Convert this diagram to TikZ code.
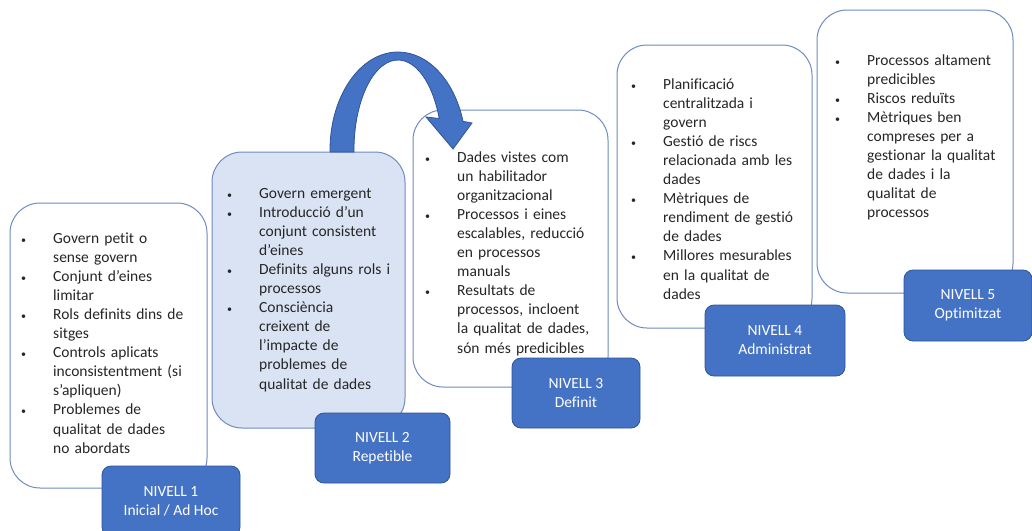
\documentclass[tikz,border=0pt]{standalone}
\usepackage{fontspec}
\setmainfont{Carlito}[Ligatures=NoCommon]

\definecolor{boxline}{HTML}{6F8BC0}
\definecolor{boxfill}{HTML}{DAE3F3}
\definecolor{lvlblue}{HTML}{4472C4}
\definecolor{lvlline}{HTML}{2F5597}

\newlength\bulind
\setlength\bulind{32pt}
\newcommand\bul[1]{\hangindent=\bulind\hangafter=1\noindent\makebox[\bulind][l]{\fontsize{10}{10}\selectfont\textbullet}#1\par}

\begin{document}
\begin{tikzpicture}[x=1pt,y=-1pt,
    stage/.style={draw=boxline,line width=1pt,rounded corners=30pt},
    lvl/.style={draw=lvlline,fill=lvlblue,line width=0.8pt,rounded corners=9pt,text=white,align=center,font=\fontsize{15.5}{19}\selectfont},
    txt/.style={anchor=base west,text width=190pt,align=left,inner sep=0pt,text=black!85,font=\fontsize{15.5}{19.1}\selectfont}]

    \useasboundingbox (0,0) rectangle (1032,530);

    \node[stage,fill=white,minimum width=197,minimum height=285] (N1) at (108.5,345.5) {};
    \node[txt] (T1) at (21,243) {\bul{Govern petit o\newline sense govern}\bul{Conjunt d’eines\newline limitar}\bul{Rols definits dins de\newline sitges}\bul{Controls aplicats\newline inconsistentment (si\newline s’apliquen)}\bul{Problemes de\newline qualitat de dades\newline no abordats}};
    \node[lvl,minimum width=138,minimum height=70] (L1) at (171,501) {NIVELL 1\\Inicial / Ad Hoc};

    \node[stage,fill=boxfill,minimum width=193,minimum height=276] (N2) at (308.5,290) {};
    \node[txt] (T2) at (227,198) {\bul{Govern emergent}\bul{Introducció d’un\newline conjunt consistent\newline d’eines}\bul{Definits alguns rols i\newline processos}\bul{Consciència\newline creixent de\newline l’impacte de\newline problemes de\newline qualitat de dades}};
    \node[lvl,minimum width=135,minimum height=70] (L2) at (382.5,448) {NIVELL 2\\Repetible};

    \node[stage,fill=white,minimum width=195,minimum height=277] (N3) at (510.5,248.5) {};
    \node[txt] (T3) at (425,162) {\bul{Dades vistes com\newline un habilitador\newline organitzacional}\bul{Processos i eines\newline escalables, reducció\newline en processos\newline manuals}\bul{Resultats de\newline processos, incloent\newline la qualitat de dades,\newline són més predicibles}};

    \draw[fill=lvlblue,draw=lvlline,line width=0.8pt] (330,152) -- (330,150) arc[start angle=180,end angle=343,x radius=68,y radius=98] -- (472,123) -- (453,149) -- (426,117) -- (439.2,118.5) arc[start angle=339.5,end angle=180,x radius=44,y radius=90] -- (354,152) -- cycle;

    \node[lvl,minimum width=128,minimum height=70] (L3) at (576,393) {NIVELL 3\\Definit};

    \node[stage,fill=white,minimum width=195,minimum height=283] (N4) at (714.5,186.5) {};
    \node[txt] (T4) at (631,89) {\bul{Planificació\newline centralitzada i\newline govern}\bul{Gestió de riscs\newline relacionada amb les\newline dades}\bul{Mètriques de\newline rendiment de gestió\newline de dades}\bul{Millores mesurables\newline en la qualitat de\newline dades}};
    \node[lvl,minimum width=140,minimum height=71] (L4) at (775,340.5) {NIVELL 4\\Administrat};

    \node[stage,fill=white,minimum width=196,minimum height=283] (N5) at (915,151.5) {};
    \node[txt] (T5) at (835,65) {\bul{Processos altament\newline predicibles}\bul{Riscos reduïts}\bul{Mètriques ben\newline compreses per a\newline gestionar la qualitat\newline de dades i la\newline qualitat de\newline processos}};
    \node[lvl,minimum width=128,minimum height=71] (L5) at (968,305.5) {NIVELL 5\\Optimitzat};

\end{tikzpicture}
\end{document}
